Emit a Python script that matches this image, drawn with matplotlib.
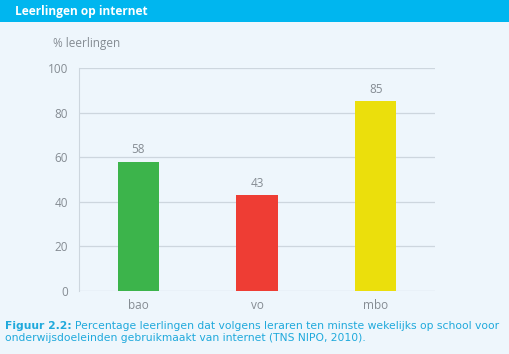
import matplotlib.pyplot as plt
from matplotlib.patches import Rectangle

# data
categories = ['bao', 'vo', 'mbo']
values = [58, 43, 85]
bar_colors = ['#3cb44b', '#ee3d34', '#ebdf0c']
yticks = [0, 20, 40, 60, 80, 100]

bg = '#eef6fc'
header = '#00b6ef'
grey = '#858c93'
grid = '#cdd6de'
caption_blue = '#1fa9dc'

plt.rcParams['font.family'] = ['Open Sans', 'DejaVu Sans']

fig = plt.figure(figsize=(5.10, 3.54), dpi=100, facecolor=bg)
W, H = 510, 354

# header bar
fig.patches.append(Rectangle((0, 1 - 22 / H), 1, 22 / H, transform=fig.transFigure,
                             facecolor=header, edgecolor='none', zorder=0))
fig.text(15 / W, 1 - 11 / H, 'Leerlingen op internet', color='white',
         fontsize=8.6, fontweight='bold', va='center', ha='left')

# axes
ax = fig.add_axes([79 / W, 1 - 291 / H, (435 - 79) / W, (291 - 68) / H])
ax.set_facecolor(bg)
x = range(len(categories))
ax.bar(x, values, width=0.35, color=bar_colors, zorder=3)
for xi, v in zip(x, values):
    ax.text(xi, v + 2.5, str(v), ha='center', va='bottom', color=grey, fontsize=8.5)

ax.set_xlim(-0.5, 2.5)
ax.set_ylim(0, 100)
ax.set_yticks(yticks)
ax.set_xticks(list(x))
ax.set_xticklabels(categories)
ax.grid(axis='y', color=grid, linewidth=0.9, zorder=0)
for s in ['top', 'right', 'bottom']:
    ax.spines[s].set_visible(False)
ax.spines['left'].set_color(grid)
ax.tick_params(axis='both', length=0, colors=grey, labelsize=8.5)
ax.tick_params(axis='y', pad=8)
ax.tick_params(axis='x', pad=6)

fig.text(53 / W, 1 - 43 / H, '% leerlingen', color=grey, fontsize=8.5, va='center', ha='left')

# caption
cap = dict(color=caption_blue, fontsize=7.75, family=['DejaVu Sans'], va='center', ha='left')
t1 = fig.text(5 / W, 1 - 326 / H, 'Figuur 2.2:', fontweight='bold', **cap)
fig.canvas.draw()
bb = t1.get_window_extent()
fig.text((bb.x1 + 3) / W, 1 - 326 / H,
         'Percentage leerlingen dat volgens leraren ten minste wekelijks op school voor', **cap)
fig.text(5 / W, 1 - 338 / H,
         'onderwijsdoeleinden gebruikmaakt van internet (TNS NIPO, 2010).', **cap)

fig.savefig('out.png', dpi=100, facecolor=bg)
